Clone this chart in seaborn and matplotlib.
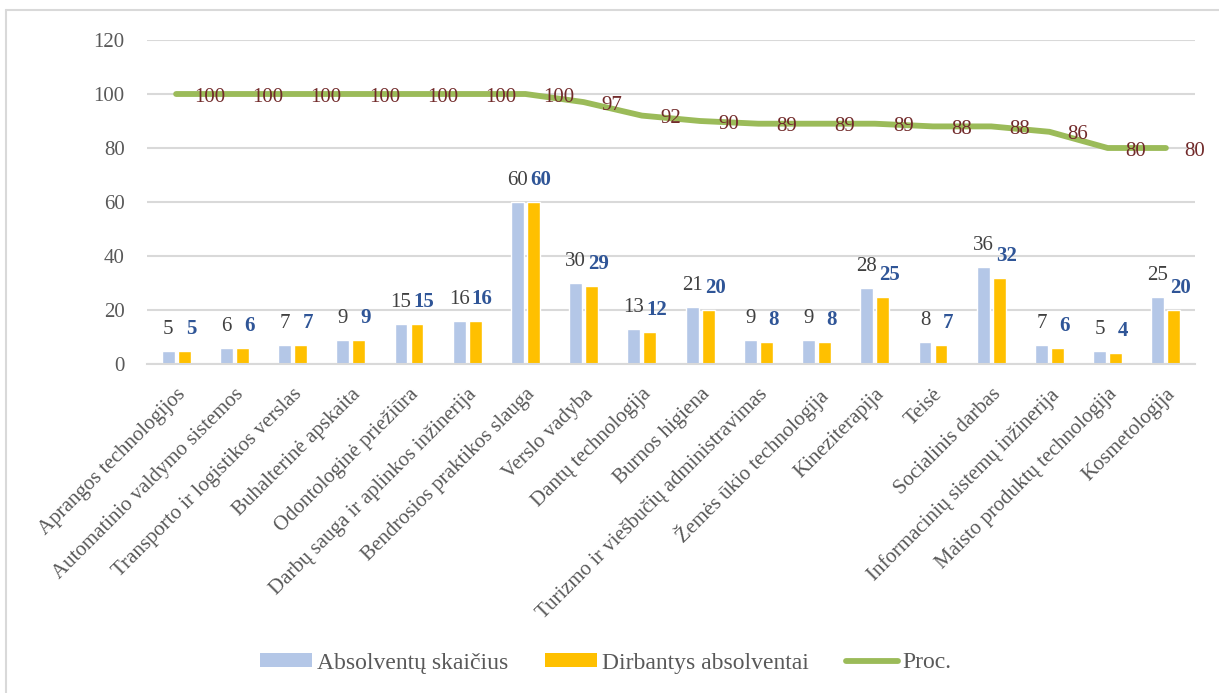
import numpy as np
import pandas as pd
import matplotlib
matplotlib.use("Agg")
import matplotlib.pyplot as plt
import seaborn as sns
from matplotlib.lines import Line2D
from matplotlib.patches import Patch

categories = [
    "Aprangos technologijos", "Automatinio valdymo sistemos",
    "Transporto ir logistikos verslas", "Buhalterinė apskaita",
    "Odontologinė priežiūra", "Darbų sauga ir aplinkos inžinerija",
    "Bendrosios praktikos slauga", "Verslo vadyba", "Dantų technologija",
    "Burnos higiena", "Turizmo ir viešbučių administravimas",
    "Žemės ūkio technologija", "Kineziterapija", "Teisė",
    "Socialinis darbas", "Informacinių sistemų inžinerija",
    "Maisto produktų technologija", "Kosmetologija",
]
absolventai = [5, 6, 7, 9, 15, 16, 60, 30, 13, 21, 9, 9, 28, 8, 36, 7, 5, 25]
dirbantys = [5, 6, 7, 9, 15, 16, 60, 29, 12, 20, 8, 8, 25, 7, 32, 6, 4, 20]
proc = [100, 100, 100, 100, 100, 100, 100, 97, 92, 90, 89, 89, 89, 88, 88, 86, 80, 80]
series_names = ["Absolventų skaičius", "Dirbantys absolventai", "Proc."]
yticks = [0, 20, 40, 60, 80, 100, 120]

c_blue = "#B4C7E7"
c_yellow = "#FFC000"
c_green = "#9BBB59"
c_text = "#595959"
c_grid = "#D9D9D9"
c_bold = "#2F5597"
c_line_lbl = "#722B2B"

sns.set_theme(style="white")
plt.rcParams["font.family"] = ["Liberation Serif", "DejaVu Serif"]

fig = plt.figure(figsize=(12.19, 6.93), dpi=100)
ax = fig.add_axes([147 / 1219, 1 - 364 / 693, (1195 - 147) / 1219, (364 - 40) / 693])

df = pd.DataFrame({
    "cat": categories * 2,
    "val": absolventai + dirbantys,
    "series": [series_names[0]] * len(categories) + [series_names[1]] * len(categories),
})
sns.barplot(data=df, x="cat", y="val", hue="series", order=categories,
            hue_order=series_names[:2], palette=[c_blue, c_yellow],
            width=0.55, gap=0.19, ax=ax, legend=False, saturation=1)

x = np.arange(len(categories))
sns.lineplot(x=x, y=proc, ax=ax, color=c_green, linewidth=4.2,
             solid_capstyle="round", solid_joinstyle="round", legend=False)

for xi, v in zip(x, proc):
    ax.annotate(str(v), (xi, v), xytext=(18, -3), textcoords="offset pixels",
                ha="left", va="center", fontsize=15, color=c_line_lbl)

# bar value labels
for rect, v in zip(ax.containers[0], absolventai):
    ax.annotate(str(v), (rect.get_x() + rect.get_width() / 2, rect.get_height()),
                xytext=(0, 12), textcoords="offset pixels", ha="center", va="bottom",
                fontsize=15, color="#404040")
for rect, v in zip(ax.containers[1], dirbantys):
    ax.annotate(str(v), (rect.get_x() + rect.get_width() / 2, rect.get_height()),
                xytext=(7, 12), textcoords="offset pixels", ha="center", va="bottom",
                fontsize=15, color=c_bold, fontweight="bold")

ax.set_xlim(-0.5, len(categories) - 0.5)
ax.set_ylim(0, 120)
ax.set_yticks(yticks)
ax.set_yticklabels([str(t) for t in yticks], fontsize=15, color=c_text)
ax.set_xticks(x)
ax.set_xticklabels(categories, rotation=45, ha="right", rotation_mode="anchor",
                   fontsize=15, color=c_text)
ax.tick_params(axis="x", length=0, pad=15)
ax.tick_params(axis="y", length=0, pad=16)
ax.set_xlabel("")
ax.set_ylabel("")
ax.yaxis.grid(True, color=c_grid, linewidth=1.5)
ax.set_axisbelow(True)
for s in ["top", "right", "left"]:
    ax.spines[s].set_visible(False)
ax.spines["bottom"].set_color(c_grid)
ax.spines["bottom"].set_linewidth(1.5)

handles = [Patch(facecolor=c_blue, edgecolor="none"),
           Patch(facecolor=c_yellow, edgecolor="none"),
           Line2D([0], [0], color=c_green, linewidth=4.2, solid_capstyle="round")]
leg = fig.legend(handles, series_names, loc="center", bbox_to_anchor=(0.497, 1 - 663 / 693),
                 ncol=3, frameon=False, fontsize=17, handlelength=2.2,
                 handleheight=0.55, handletextpad=0.21, columnspacing=1.57)
for t in leg.get_texts():
    t.set_color(c_text)

# outer chart border
fig.add_artist(Line2D([6 / 1219, 6 / 1219], [0, 1 - 10 / 693], transform=fig.transFigure,
                      color=c_grid, linewidth=1.5))
fig.add_artist(Line2D([6 / 1219, 1], [1 - 10 / 693, 1 - 10 / 693], transform=fig.transFigure,
                      color=c_grid, linewidth=1.5))

fig.savefig("out.png", dpi=100)
